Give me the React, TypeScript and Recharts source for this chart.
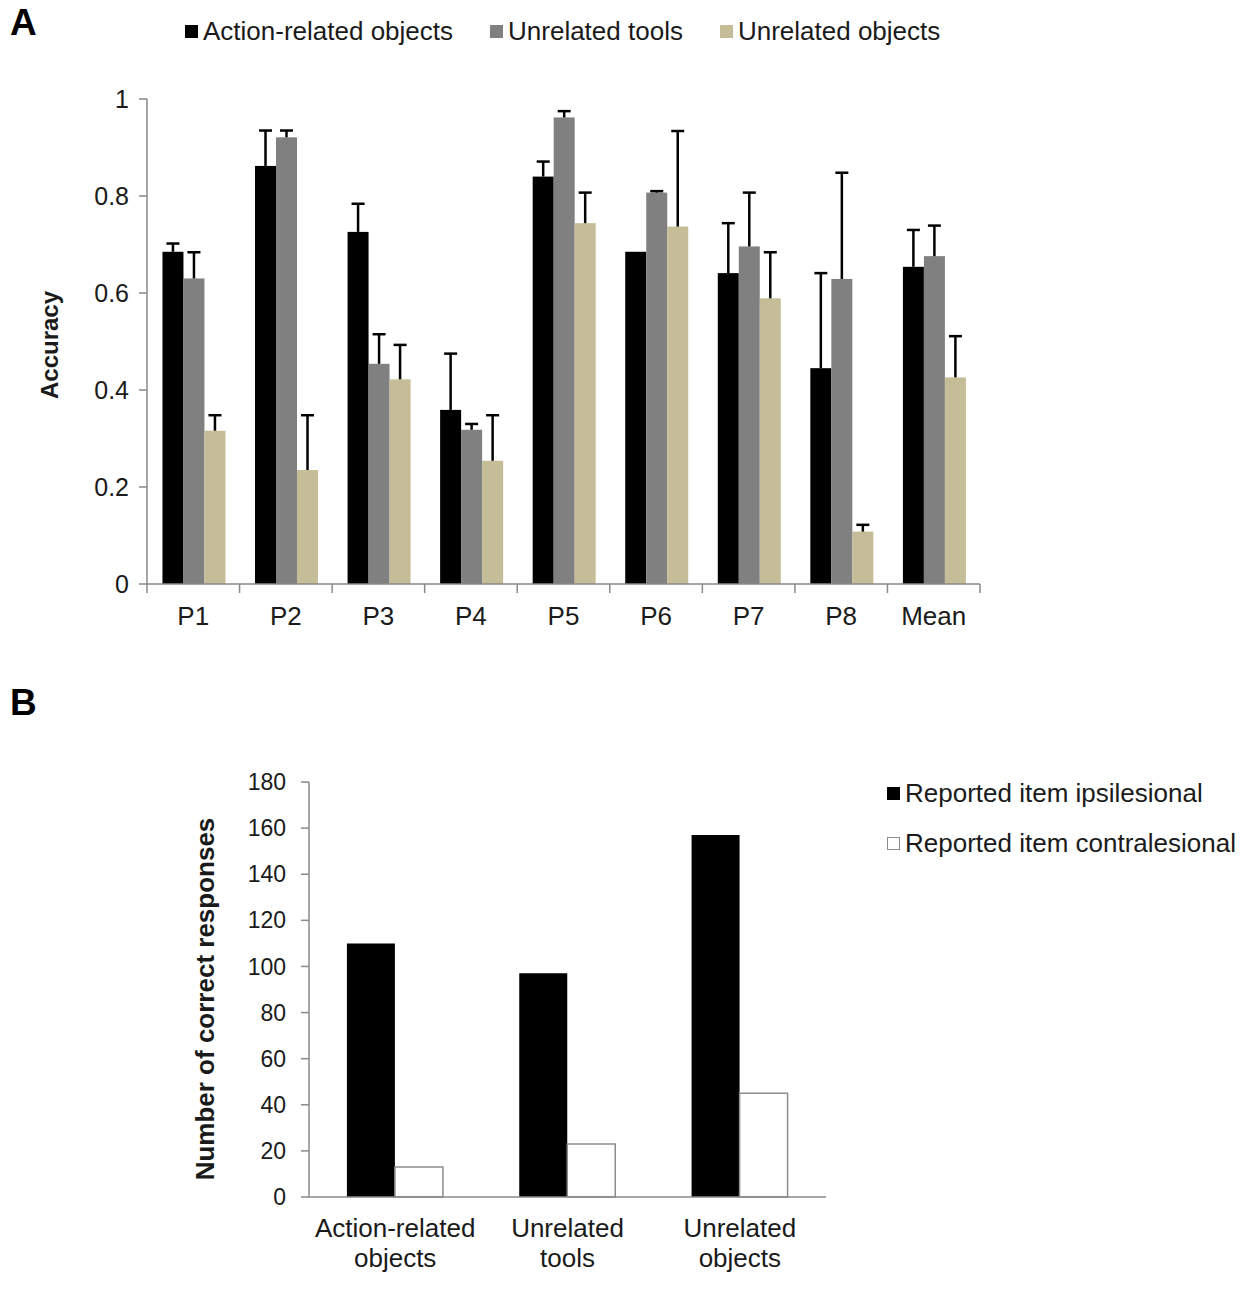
import React from 'react';
import { BarChart, Bar, XAxis, YAxis, Legend } from 'recharts';

// ---------- Panel A data ----------
const participants = ['P1', 'P2', 'P3', 'P4', 'P5', 'P6', 'P7', 'P8', 'Mean'];
const actionRelated = [0.685, 0.862, 0.726, 0.359, 0.84, 0.685, 0.641, 0.445, 0.654];
const actionRelatedErr = [0.017, 0.073, 0.058, 0.116, 0.031, 0, 0.103, 0.196, 0.076];
const unrelatedTools = [0.63, 0.921, 0.454, 0.318, 0.962, 0.807, 0.696, 0.629, 0.676];
const unrelatedToolsErr = [0.054, 0.014, 0.061, 0.012, 0.013, 0.003, 0.111, 0.219, 0.063];
const unrelatedObjects = [0.316, 0.235, 0.422, 0.254, 0.744, 0.737, 0.589, 0.108, 0.426];
const unrelatedObjectsErr = [0.032, 0.113, 0.071, 0.094, 0.063, 0.197, 0.095, 0.014, 0.085];
const accuracyTicks = [0, 0.2, 0.4, 0.6, 0.8, 1];
const seriesNamesA = ['Action-related objects', 'Unrelated tools', 'Unrelated objects'];
const seriesColorsA = ['#000000', '#808080', '#c4bd97'];

// ---------- Panel B data ----------
const conditions = ['Action-related objects', 'Unrelated tools', 'Unrelated objects'];
const ipsilesional = [110, 97, 157];
const contralesional = [13, 23, 45];
const countTicks = [0, 20, 40, 60, 80, 100, 120, 140, 160, 180];
const seriesNamesB = ['Reported item ipsilesional', 'Reported item contralesional'];

const dataA = participants.map((p, i) => ({
  name: p,
  action: actionRelated[i],
  actionErr: actionRelatedErr[i],
  tools: unrelatedTools[i],
  toolsErr: unrelatedToolsErr[i],
  objects: unrelatedObjects[i],
  objectsErr: unrelatedObjectsErr[i],
}));

const dataB = conditions.map((c, i) => ({
  name: c,
  ipsi: ipsilesional[i],
  contra: contralesional[i],
}));

const FONT = '"Liberation Sans", Arial, sans-serif';
const AXIS = '#898989';
const TEXT = '#1a1a1a';

const makeErrShape = (errKey: string, fill: string) => (props: any) => {
  const { x, y, width, height, payload, value } = props;
  const v = Array.isArray(value) ? value[1] - value[0] : value;
  const err = payload ? payload[errKey] : 0;
  const pxPerUnit = v ? height / v : 0;
  const cx = x + width / 2;
  const top = y - err * pxPerUnit;
  return (
    <g>
      <rect x={x} y={y} width={width} height={height} fill={fill} />
      {err > 0 && (
        <g stroke="#000" strokeWidth={2.5}>
          <line x1={cx} y1={y} x2={cx} y2={top} />
          <line x1={cx - 6.5} y1={top} x2={cx + 6.5} y2={top} />
        </g>
      )}
    </g>
  );
};

const BandTick = (props: any) => {
  const { x, y, payload, index, visibleTicksCount, width } = props;
  const band = width && visibleTicksCount ? width / visibleTicksCount : 0;
  const axisY = y - 8;
  return (
    <g>
      <line x1={x - band / 2} x2={x - band / 2} y1={axisY} y2={axisY + 9} stroke={AXIS} strokeWidth={1.5} />
      {index === visibleTicksCount - 1 && (
        <line x1={x + band / 2} x2={x + band / 2} y1={axisY} y2={axisY + 9} stroke={AXIS} strokeWidth={1.5} />
      )}
      <text x={x} y={y + 33} textAnchor="middle" fontSize={26} fontFamily={FONT} fill={TEXT}>
        {payload.value}
      </text>
    </g>
  );
};

const TwoLineTick = (props: any) => {
  const { x, y, payload } = props;
  const words = String(payload.value).split(' ');
  const first = words[0];
  const rest = words.slice(1).join(' ');
  return (
    <g>
      <text x={x} y={y + 40} textAnchor="middle" fontSize={26} fontFamily={FONT} fill={TEXT}>
        {first}
      </text>
      <text x={x} y={y + 70} textAnchor="middle" fontSize={26} fontFamily={FONT} fill={TEXT}>
        {rest}
      </text>
    </g>
  );
};

const LegendA = () => (
  <div style={{ display: 'flex', fontFamily: FONT, fontSize: 26, color: TEXT, lineHeight: '34px', whiteSpace: 'nowrap' }}>
    {seriesNamesA.map((name, i) => (
      <div key={name} style={{ display: 'flex', alignItems: 'center', marginRight: 37 }}>
        <span style={{ display: 'inline-block', width: 13, height: 13, background: seriesColorsA[i], marginRight: 5 }} />
        <span>{name}</span>
      </div>
    ))}
  </div>
);

const LegendB = () => (
  <div style={{ fontFamily: FONT, fontSize: 26, color: TEXT, whiteSpace: 'nowrap' }}>
    {seriesNamesB.map((name, i) => (
      <div key={name} style={{ display: 'flex', alignItems: 'center', height: 50 }}>
        <span
          style={{
            display: 'inline-block',
            width: 13,
            height: 13,
            boxSizing: 'border-box',
            background: i === 0 ? '#000' : '#fff',
            border: i === 0 ? '1px solid #000' : '1.5px solid #8c8c8c',
            marginRight: 5,
          }}
        />
        <span>{name}</span>
      </div>
    ))}
  </div>
);

export default function App() {
  return (
    <div style={{ position: 'absolute', left: 0, top: 0, width: 1259, height: 1300, background: '#fff', fontFamily: FONT }}>
      <div style={{ position: 'absolute', left: 10, top: 4, fontSize: 37, fontWeight: 'bold', lineHeight: 1, color: '#000' }}>A</div>
      <div style={{ position: 'absolute', left: 10, top: 684, fontSize: 37, fontWeight: 'bold', lineHeight: 1, color: '#000' }}>B</div>

      <div style={{ position: 'absolute', left: 0, top: 0 }}>
        <BarChart
          width={1000}
          height={660}
          data={dataA}
          margin={{ top: 99, right: 20, bottom: 36, left: 87 }}
          barCategoryGap="16.7%"
          barGap={0}
        >
          <XAxis
            dataKey="name"
            height={40}
            axisLine={{ stroke: AXIS, strokeWidth: 1.5 }}
            tickLine={false}
            tickSize={8}
            tickMargin={0}
            interval={0}
            tick={<BandTick />}
          />
          <YAxis
            width={60}
            domain={[0, 1]}
            ticks={accuracyTicks}
            interval={0}
            axisLine={{ stroke: AXIS, strokeWidth: 1.5 }}
            tickLine={{ stroke: AXIS, strokeWidth: 1.5 }}
            tickSize={8}
            tickMargin={10}
            tick={{ fontSize: 25, fontFamily: FONT, fill: TEXT }}
            label={{
              content: () => (
                <text
                  x={49}
                  y={345}
                  transform="rotate(-90 49 345)"
                  textAnchor="middle"
                  dominantBaseline="central"
                  fontSize={24}
                  fontWeight="bold"
                  fontFamily={FONT}
                  fill={TEXT}
                >
                  Accuracy
                </text>
              ),
            }}
          />
          <Legend
            layout="horizontal"
            verticalAlign="middle"
            align="center"
            wrapperStyle={{ top: 14, left: 185, width: 'auto' }}
            content={<LegendA />}
          />
          <Bar dataKey="action" name={seriesNamesA[0]} fill={seriesColorsA[0]} isAnimationActive={false} shape={makeErrShape('actionErr', seriesColorsA[0])} />
          <Bar dataKey="tools" name={seriesNamesA[1]} fill={seriesColorsA[1]} isAnimationActive={false} shape={makeErrShape('toolsErr', seriesColorsA[1])} />
          <Bar dataKey="objects" name={seriesNamesA[2]} fill={seriesColorsA[2]} isAnimationActive={false} shape={makeErrShape('objectsErr', seriesColorsA[2])} />
        </BarChart>
      </div>

      <div style={{ position: 'absolute', left: 0, top: 740 }}>
        <BarChart
          width={1259}
          height={560}
          data={dataB}
          margin={{ top: 42, right: 433, bottom: 23, left: 239 }}
          barCategoryGap="22%"
          barGap={0}
        >
          <XAxis
            dataKey="name"
            height={80}
            axisLine={{ stroke: AXIS, strokeWidth: 1.5 }}
            tickLine={false}
            tickSize={0}
            tickMargin={0}
            interval={0}
            tick={<TwoLineTick />}
          />
          <YAxis
            width={70}
            domain={[0, 180]}
            ticks={countTicks}
            interval={0}
            axisLine={{ stroke: AXIS, strokeWidth: 1.5 }}
            tickLine={{ stroke: AXIS, strokeWidth: 1.5 }}
            tickSize={8}
            tickMargin={15}
            tick={{ fontSize: 23, fontFamily: FONT, fill: TEXT }}
            label={{
              content: () => (
                <text
                  x={205}
                  y={259}
                  transform="rotate(-90 205 259)"
                  textAnchor="middle"
                  dominantBaseline="central"
                  fontSize={26}
                  fontWeight="bold"
                  fontFamily={FONT}
                  fill={TEXT}
                >
                  Number of correct responses
                </text>
              ),
            }}
          />
          <Legend
            layout="horizontal"
            verticalAlign="middle"
            align="center"
            wrapperStyle={{ top: 28, left: 887, width: 'auto' }}
            content={<LegendB />}
          />
          <Bar dataKey="ipsi" name={seriesNamesB[0]} fill="#000000" isAnimationActive={false} />
          <Bar
            dataKey="contra"
            name={seriesNamesB[1]}
            fill="#ffffff"
            stroke="#8c8c8c"
            strokeWidth={1.5}
            isAnimationActive={false}
          />
        </BarChart>
      </div>
    </div>
  );
}
